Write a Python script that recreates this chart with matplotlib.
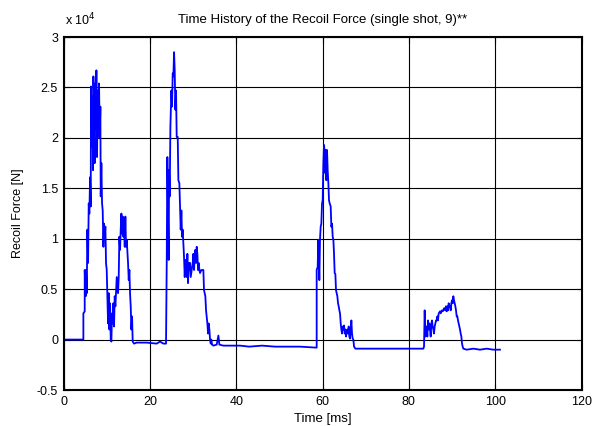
import numpy as np
import matplotlib
matplotlib.use('Agg')
import matplotlib.pyplot as plt

plt.rcParams['font.family'] = ['Liberation Sans', 'DejaVu Sans']

# force in units of 10^4 N, time in ms
t_shot1 = [0, 4.59, 4.59, 4.90, 4.90, 5.13, 5.21, 5.37, 5.52, 5.68,
           5.83, 5.98, 6.14, 6.29, 6.37, 6.52, 6.68, 6.83, 6.91, 7.07,
           7.22, 7.30, 7.45, 7.61, 7.76, 7.91, 8.07, 8.22, 8.38, 8.53,
           8.61, 8.76, 8.92, 9.07, 9.23, 9.38, 9.54, 9.69, 9.84, 10.00,
           10.15, 10.31, 10.46, 10.62, 10.77, 10.93, 11.08, 11.23, 11.39, 11.54,
           11.70, 11.85, 12.01, 12.32, 12.62, 12.78, 12.93, 13.09, 13.24, 13.40,
           13.55, 13.71, 13.86, 14.01, 14.17, 14.32, 14.48, 14.63, 14.94, 15.10,
           15.25, 15.40, 15.56, 15.71, 15.87, 16.02, 16.33, 16.95, 19.26, 21.58,
           22.35, 23.13, 23.74]
f_shot1 = [0.00, 0.00, 0.26, 0.28, 0.69, 0.43, 0.69, 0.46, 1.09, 0.76,
           1.35, 1.25, 1.61, 1.32, 2.51, 1.91, 2.41, 1.68, 2.61, 2.14,
           1.75, 2.54, 2.08, 2.67, 1.81, 2.47, 2.01, 2.54, 2.01, 2.31,
           1.42, 1.75, 1.35, 1.28, 0.92, 1.15, 1.02, 1.12, 0.76, 0.69,
           0.43, 0.16, 0.46, 0.10, 0.36, -0.00, -0.02, 0.26, 0.16, 0.36,
           0.13, 0.43, 0.33, 0.62, 0.46, 0.62, 1.02, 0.89, 1.09, 1.25,
           1.05, 1.22, 1.02, 1.15, 0.92, 1.22, 0.92, 0.99, 0.76, 0.59,
           0.69, 0.46, 0.33, 0.10, 0.23, -0.02, -0.04, -0.03, -0.03, -0.04,
           -0.02, -0.04, -0.04]

t_shot2 = [23.90, 24.05, 24.21, 24.36, 24.44, 24.59, 24.75, 24.98, 25.13, 25.29,
           25.44, 25.60, 25.75, 25.90, 26.06, 26.21, 26.45, 26.60, 26.83, 26.99,
           27.14, 27.30, 27.45, 27.60, 27.76, 27.91, 28.07, 28.22, 28.38, 28.53,
           28.69, 28.84, 28.99, 29.15, 29.30, 29.46, 29.69, 29.92, 30.07, 30.23,
           30.38, 30.54, 30.69, 30.85, 31.00, 31.16, 31.31, 31.47, 31.62, 31.93,
           32.39, 32.54, 32.85, 33.01, 33.16, 33.32, 33.47, 33.62, 33.78, 33.94,
           34.09, 34.24, 34.40, 34.71, 35.48, 35.87, 36.10, 37.02, 39.34, 40.88]
f_shot2 = [0.76, 1.81, 1.22, 0.79, 1.68, 1.42, 2.11, 2.47, 2.31, 2.64,
           2.61, 2.85, 2.67, 2.28, 2.47, 2.01, 2.01, 1.58, 1.55, 1.32,
           1.09, 1.28, 1.02, 1.09, 0.95, 0.82, 0.62, 0.79, 0.69, 0.62,
           0.85, 0.56, 0.76, 0.69, 0.76, 0.62, 0.69, 0.76, 0.85, 0.69,
           0.82, 0.89, 0.76, 0.92, 0.85, 0.69, 0.76, 0.69, 0.66, 0.69,
           0.69, 0.49, 0.43, 0.29, 0.23, 0.16, 0.06, 0.16, 0.10, -0.00,
           -0.04, -0.00, -0.05, -0.06, -0.05, 0.04, -0.05, -0.06, -0.06, -0.06]

t_rest = [43.0, 46.0, 49.0, 52.0]
f_rest = [-0.07, -0.06, -0.07, -0.07]

t_shot3 = [54.78, 58.64, 58.64, 58.87, 59.03, 59.26, 59.41, 59.57, 59.72, 59.88,
           60.03, 60.19, 60.34, 60.50, 60.65, 60.73, 60.88, 61.04, 61.19, 61.35,
           61.50, 61.66, 61.89, 62.04, 62.20, 62.35, 62.51, 62.66, 62.81, 62.97,
           63.12, 63.28, 63.43, 63.59, 63.74, 63.90, 64.05, 64.21, 64.36, 64.51,
           64.67, 64.82, 64.98, 65.13, 65.29, 65.44, 65.60, 65.75, 65.91, 66.06,
           66.21, 66.37, 66.52, 66.68, 66.83, 66.99, 67.14, 67.30, 67.61, 68.69,
           70.23, 74.05, 77.91, 81.04, 83.35]
f_shot3 = [-0.07, -0.08, 0.69, 0.72, 0.99, 0.59, 0.99, 1.12, 1.15, 1.35,
           1.38, 1.75, 1.93, 1.85, 1.65, 1.88, 1.58, 1.88, 1.68, 1.55,
           1.38, 1.35, 1.32, 1.12, 1.15, 1.02, 0.99, 0.85, 0.66, 0.65,
           0.49, 0.46, 0.43, 0.36, 0.33, 0.29, 0.26, 0.16, 0.10, 0.06,
           0.13, 0.10, 0.14, 0.06, 0.10, 0.03, 0.08, 0.10, 0.06, 0.13,
           0.03, 0.01, 0.10, 0.19, 0.06, 0.01, -0.00, -0.07, -0.09, -0.09,
           -0.09, -0.09, -0.09, -0.09, -0.09]

t_shot4 = [83.51, 83.66, 83.82, 83.97, 84.12, 84.28, 84.43, 84.59, 84.74, 84.90,
           85.05, 85.21, 85.36, 85.51, 85.67, 85.82, 85.98, 86.13, 86.29, 86.44,
           86.60, 86.75, 86.91, 87.06, 87.21, 87.37, 87.52, 87.68, 87.83, 87.99,
           88.14, 88.30, 88.45, 88.60, 88.76, 88.91, 89.07, 89.22, 89.38, 89.53,
           89.69, 89.84, 89.99, 90.15, 90.30, 90.46, 90.61, 90.77, 90.92, 91.08,
           91.23, 91.38, 91.54, 91.69, 91.85, 92.00, 92.16, 92.31, 92.47, 92.62,
           93.39, 94.94, 96.48, 98.03, 99.57, 101.11]
f_shot4 = [-0.07, 0.29, 0.03, 0.10, 0.13, 0.03, 0.19, 0.10, 0.16, 0.10,
           0.03, 0.16, 0.19, 0.13, 0.10, 0.06, 0.13, 0.16, 0.19, 0.19,
           0.23, 0.19, 0.26, 0.27, 0.28, 0.26, 0.28, 0.29, 0.28, 0.29,
           0.31, 0.31, 0.29, 0.33, 0.28, 0.33, 0.29, 0.36, 0.33, 0.33,
           0.29, 0.36, 0.39, 0.36, 0.43, 0.39, 0.36, 0.33, 0.29, 0.23,
           0.23, 0.19, 0.16, 0.13, 0.10, 0.06, 0.03, -0.04, -0.07, -0.09,
           -0.10, -0.09, -0.10, -0.09, -0.10, -0.10]

x_ticks = [0, 20, 40, 60, 80, 100, 120]
y_ticks = [-0.5, 0, 0.5, 1, 1.5, 2, 2.5, 3]
y_ticklabels = ['-0.5', '0', '0.5', '1', '1.5', '2', '2.5', '3']

t = np.concatenate([t_shot1, t_shot2, t_rest, t_shot3, t_shot4])
force = np.concatenate([f_shot1, f_shot2, f_rest, f_shot3, f_shot4])

fig = plt.figure(figsize=(5.94, 4.26), dpi=100)
ax = fig.add_axes([0.107, 0.0845, 0.872, 0.8285])
ax.plot(t, force, color='#0000ff', linewidth=1.3)

ax.set_xlim(0, 120)
ax.set_ylim(-0.5, 3)
ax.set_xticks(x_ticks)
ax.set_yticks(y_ticks)
ax.set_yticklabels(y_ticklabels)
ax.grid(True, color='black', linewidth=0.8, linestyle='-')
ax.set_axisbelow(True)
for s in ax.spines.values():
    s.set_linewidth(1.5)
ax.tick_params(direction='in', top=True, right=True, length=4, labelsize=9, pad=4)

ax.set_title('Time History of the Recoil Force (single shot, 9)**', fontsize=9.5, pad=10)
ax.set_xlabel('Time [ms]', fontsize=9.5, labelpad=4)
ax.set_ylabel('Recoil Force [N]', fontsize=9, labelpad=9)
fig.text(0.109, 0.952, r'x 10$^{4}$', fontsize=9, ha='left', va='center')

fig.savefig('out.png', dpi=100)
